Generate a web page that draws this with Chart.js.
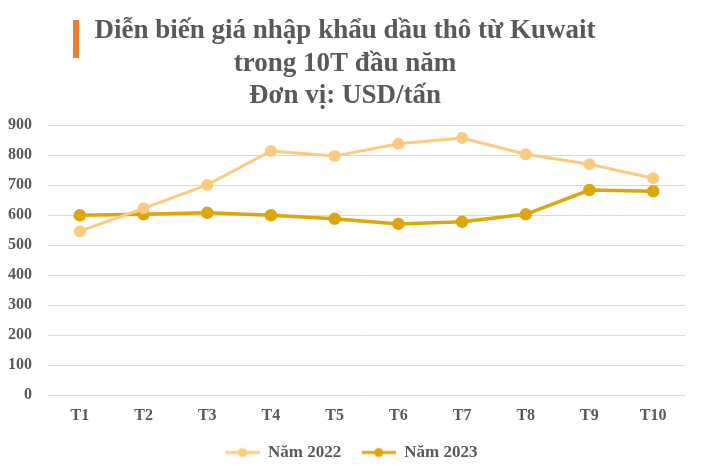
<!DOCTYPE html>
<html>
<head>
<meta charset="utf-8">
<script src="https://cdn.jsdelivr.net/npm/chart.js@4"></script>
<style>
  body { margin: 0; background: #fff; }
  #wrap { position: relative; width: 701px; height: 471px; }
  #bar { position: absolute; left: 73px; top: 20px; width: 6px; height: 38px; background: #ED7D31; }
</style>
</head>
<body>
<div id="wrap">
  <canvas id="myChart" width="701" height="471"></canvas>
  <div id="bar"></div>
</div>
<script>
const thang = ['T1','T2','T3','T4','T5','T6','T7','T8','T9','T10']
const nam2022 = [547, 623, 701, 814, 797, 838, 857, 803, 770, 723]
const nam2023 = [600, 603, 608, 600, 588, 571, 578, 603, 684, 680]
const tieuDe = ['Diễn biến giá nhập khẩu dầu thô từ Kuwait', 'trong 10T đầu năm', 'Đơn vị: USD/tấn']

const mau2022 = '#FCCB80'
const mau2023 = '#DFA50B'
const chu = '#595959'
const font = 'Liberation Serif, Times New Roman, serif'

// icon cho legend: khoang trong ben trai + duong ke + cham tron
function legendIcon(color){
  const c = document.createElement('canvas')
  c.width = 47; c.height = 12
  const g = c.getContext('2d')
  g.strokeStyle = color
  g.lineWidth = 3
  g.beginPath(); g.moveTo(13, 6); g.lineTo(47, 6); g.stroke()
  g.fillStyle = color
  g.beginPath(); g.arc(30, 6, 4.5, 0, Math.PI*2); g.fill()
  return c
}

const ctx = document.getElementById('myChart')
new Chart(ctx, {
  type: 'line',
  data: {
    labels: thang,
    datasets: [{
      label: 'Năm 2022',
      data: nam2022,
      borderColor: mau2022,
      backgroundColor: mau2022,
      borderWidth: 3,
      pointRadius: 4.5,
      tension: 0
    }, {
      label: 'Năm 2023',
      data: nam2023,
      borderColor: mau2023,
      backgroundColor: mau2023,
      borderWidth: 3.5,
      pointRadius: 4.5,
      tension: 0
    }]
  },
  options: {
    responsive: false,
    animation: false,
    layout: { padding: { left: 5, right: 16, top: 6, bottom: 0 } },
    plugins: {
      title: {
        display: true,
        text: tieuDe,
        color: chu,
        font: { family: font, size: 27, weight: 'bold', lineHeight: 1.2 },
        padding: { top: 9, bottom: 13 }
      },
      legend: {
        position: 'bottom',
        labels: {
          color: chu,
          font: { family: font, size: 17, weight: 'bold' },
          usePointStyle: true,
          pointStyleWidth: 47,
          padding: 7.5,
          generateLabels: (chart) => chart.data.datasets.map((ds, i) => ({
            text: ds.label,
            fontColor: chu,
            pointStyle: legendIcon(ds.borderColor),
            datasetIndex: i,
            lineWidth: 0,
            strokeStyle: 'transparent',
            fillStyle: 'transparent'
          }))
        }
      },
      tooltip: { enabled: false }
    },
    scales: {
      x: {
        offset: true,
        grid: { display: false, drawTicks: false },
        border: { display: false },
        ticks: { color: chu, font: { family: font, size: 16, weight: 'bold' }, padding: 11 }
      },
      y: {
        min: 0,
        max: 900,
        afterFit: (s) => { s.width = 43 },
        grid: { color: '#D9D9D9', drawTicks: false, lineWidth: 1 },
        border: { display: false },
        ticks: { stepSize: 100, color: chu, font: { family: font, size: 16, weight: 'bold' }, padding: 16 }
      }
    }
  }
})
</script>
</body>
</html>
